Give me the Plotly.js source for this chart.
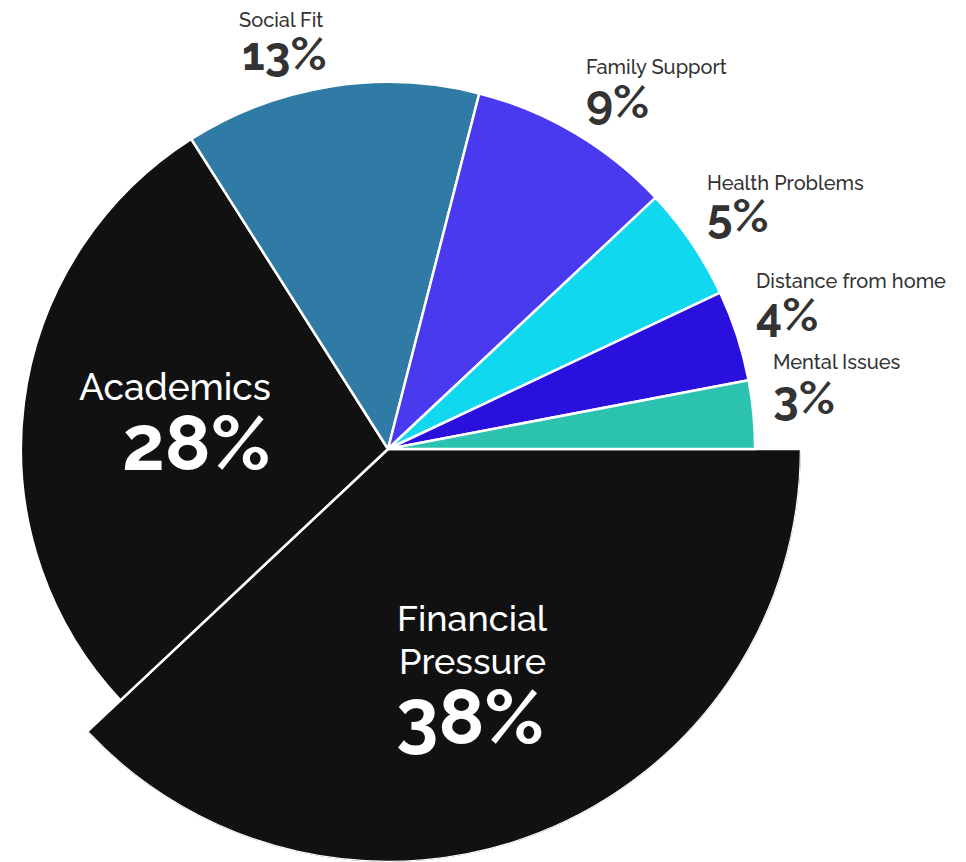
<!DOCTYPE html>
<html>
<head>
<meta charset="utf-8">
<script src="https://cdn.plot.ly/plotly-3.0.1.min.js"></script>
<style>
  html, body { margin: 0; padding: 0; background: #ffffff; overflow: hidden; width: 966px; height: 862px; }
  #chart { position: absolute; left: -25px; top: 0px; width: 1000px; height: 900px; }
</style>
</head>
<body>
<div id="chart"></div>
<script>
// ---- data ----
const categories = ["Financial Pressure", "Academics", "Social Fit", "Family Support", "Health Problems", "Distance from home", "Mental Issues"];
const percents = [38, 28, 13, 9, 5, 4, 3];
const sliceRadius = [1.125, 1, 1, 1, 1, 1, 1]; // Financial Pressure slice is drawn larger
const sliceColors = ["#111111", "#111111", "#2f7ba5", "#4a3aef", "#10d8ee", "#2a10dc", "#2cc2b0"];

// ---- slice geometry from the percentages ----
const widths = percents.map(p => p * 3.6);
const thetas = [];
let acc = 0;
widths.forEach(w => { thetas.push(acc + w / 2); acc += w; });

// ---- page px -> paper coords (div is 1000x900, offset -25px left) ----
const DW = 1000, DH = 900, OFFX = -25;
const px = x => (x - OFFX) / DW;
const py = y => (DH - y) / DH;

const FONT = "Raleway, Lato, sans-serif";
const dark = "#333333";

function ann(text, x, y, size, color, weight, xanchor) {
  return {
    text: text,
    x: px(x), y: py(y), xref: "paper", yref: "paper",
    xanchor: xanchor, yanchor: "middle", showarrow: false,
    font: { family: FONT, size: size, color: color, weight: weight }
  };
}

const annotations = [
  ann(categories[2], 281, 20, 20, dark, 500, "center"),
  ann(percents[2] + "%", 284, 54, 46, dark, 700, "center"),
  ann(categories[3], 584, 67, 20, dark, 500, "left"),
  ann(percents[3] + "%", 584, 102, 46, dark, 700, "left"),
  ann(categories[4], 705, 183, 20, dark, 500, "left"),
  ann(percents[4] + "%", 705, 216, 46, dark, 700, "left"),
  ann(categories[5], 754, 281, 20, dark, 500, "left"),
  ann(percents[5] + "%", 754, 315, 46, dark, 700, "left"),
  ann(categories[6], 771, 362, 20, dark, 500, "left"),
  ann(percents[6] + "%", 771, 398, 46, dark, 700, "left"),
  ann(categories[1], 175, 387, 37, "#ffffff", 500, "center"),
  ann(percents[1] + "%", 196, 443, 76, "#ffffff", 700, "center"),
  ann("Financial", 472, 618, 36, "#ffffff", 500, "center"),
  ann("Pressure", 472, 661, 36, "#ffffff", 500, "center"),
  ann(percents[0] + "%", 470, 717, 76, "#ffffff", 700, "center")
];

const trace = {
  type: "barpolar",
  r: sliceRadius,
  theta: thetas,
  width: widths,
  text: categories,
  marker: { color: sliceColors, line: { color: "#ffffff", width: 2.5 } },
  hoverinfo: "text"
};

// polar square: centre at page (388,449), radius 413px
const R = 413, CX = 388, CY = 449;
const layout = {
  width: DW, height: DH,
  margin: { l: 0, r: 0, t: 0, b: 0, pad: 0 },
  paper_bgcolor: "#ffffff",
  showlegend: false,
  polar: {
    domain: { x: [px(CX - R), px(CX + R)], y: [py(CY + R), py(CY - R)] },
    bgcolor: "rgba(0,0,0,0)",
    radialaxis: { visible: false, range: [0, 1.125] },
    angularaxis: { visible: false, rotation: 0, direction: "clockwise" },
    bargap: 0
  },
  annotations: annotations
};

Plotly.newPlot("chart", [trace], layout, { staticPlot: true, displayModeBar: false });
</script>
</body>
</html>
